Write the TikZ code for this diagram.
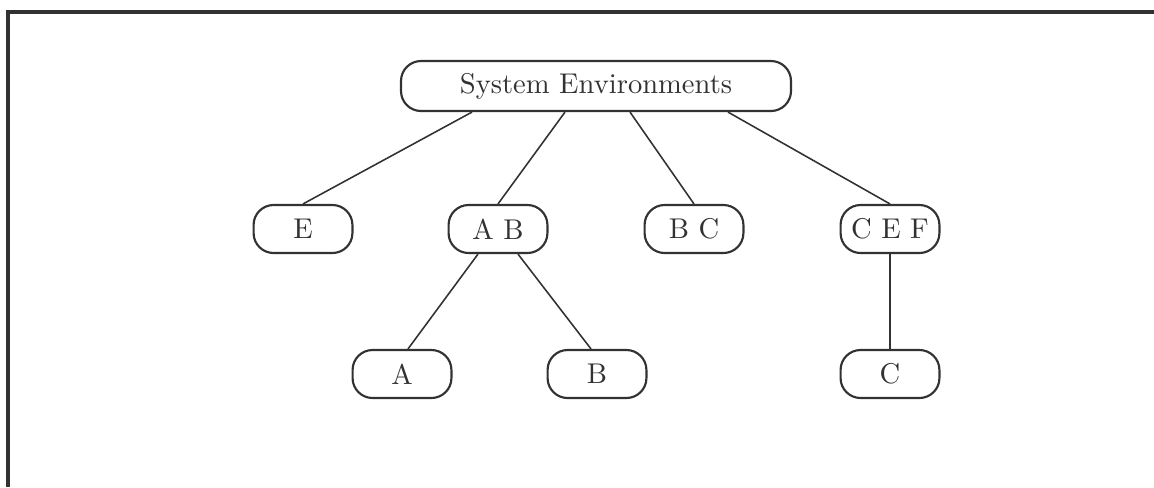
\documentclass[tikz,border=0pt]{standalone}
\usepackage{xcolor}
\usepackage{tikz}
\usetikzlibrary{calc}
\definecolor{inkgray}{RGB}{50,50,50}

\tikzset{
  envbox/.style={draw=inkgray,line width=0.75pt,rounded corners=7pt,inner sep=0pt,
    minimum width=34.6pt,minimum height=16.8pt,text=inkgray},
  treeline/.style={inkgray,line width=0.55pt}
}

\begin{document}
\begin{tikzpicture}[x=0.35pt,y=-0.35pt]
  \useasboundingbox (0,0) rectangle (1154,487);
  \draw[inkgray,line width=1.1pt] (1154,12) -- (8,12) -- (8,487);
  \node[envbox,minimum width=136.5pt,minimum height=17.5pt] (sysenv) at (596,86) {System Environments};
  \node[envbox] (e) at (303,229) {E};
  \node[envbox] (ab) at (498,229) {A B};
  \node[envbox] (bc) at (694,229) {B C};
  \node[envbox] (cef) at (890,229) {C E F};
  \node[envbox] (a) at (402,374) {A};
  \node[envbox] (b) at (597,374) {B};
  \node[envbox] (c) at (890,374) {C};
  \draw[treeline] ($(sysenv.south)+(-124,0)$) -- (e.north);
  \draw[treeline] ($(sysenv.south)+(-31,0)$) -- (ab.north);
  \draw[treeline] ($(sysenv.south)+(34,0)$) -- (bc.north);
  \draw[treeline] ($(sysenv.south)+(132,0)$) -- (cef.north);
  \draw[treeline] ($(ab.south)+(-20,0)$) -- ($(a.north)+(6,0)$);
  \draw[treeline] ($(ab.south)+(20,0)$) -- ($(b.north)+(-6,0)$);
  \draw[treeline] (cef.south) -- (c.north);
\end{tikzpicture}
\end{document}
